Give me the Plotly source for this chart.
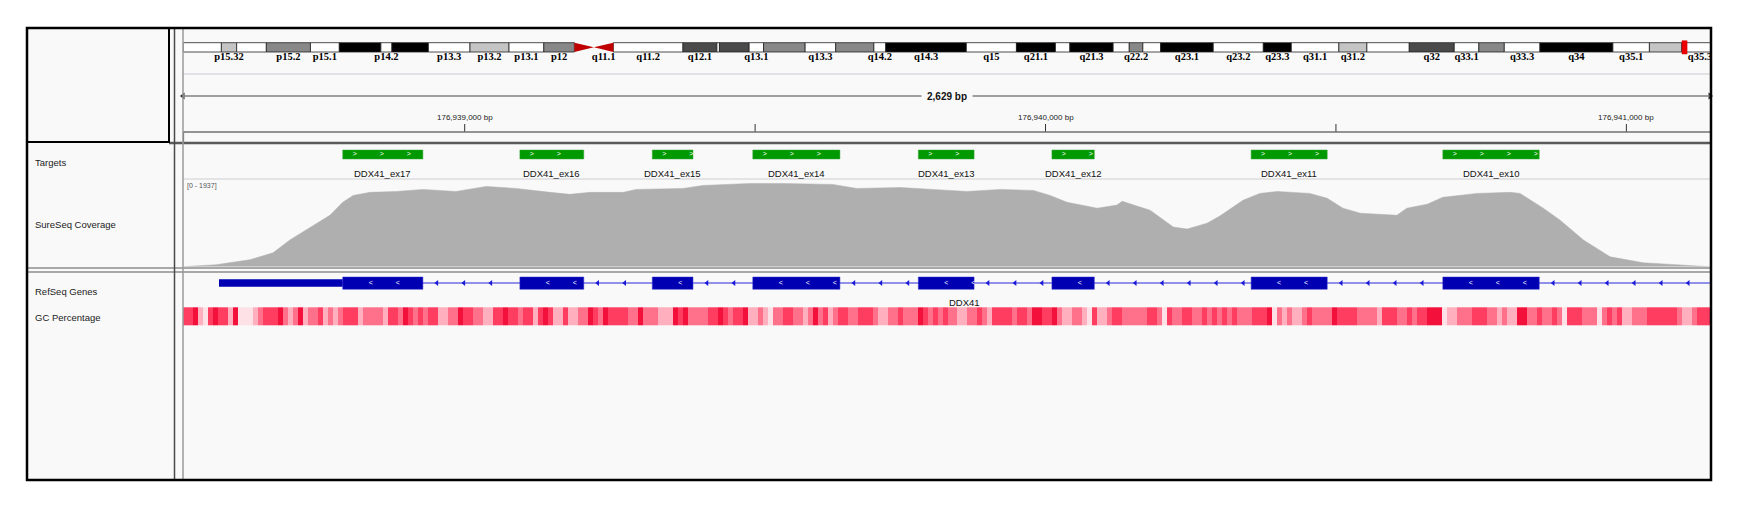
import plotly.graph_objects as go

W, H = 1741, 514

# locus shown (chr5, hg19)
view_start = 176938515
view_end = 176941144
ruler_major = [176939000, 176940000, 176941000]
ruler_minor = [176939500, 176940500]

# chr5 cytobands (Mb)
band_name = ["p15.33", "p15.32", "p15.31", "p15.2", "p15.1", "p14.3", "p14.2", "p14.1", "p13.3", "p13.2",
             "p13.1", "p12", "p11", "q11.1", "q11.2", "q12.1", "q12.2", "q12.3", "q13.1", "q13.2",
             "q13.3", "q14.1", "q14.2", "q14.3", "q15", "q21.1", "q21.2", "q21.3", "q22.1", "q22.2",
             "q22.3", "q23.1", "q23.2", "q23.3", "q31.1", "q31.2", "q31.3", "q32", "q33.1", "q33.2",
             "q33.3", "q34", "q35.1", "q35.2", "q35.3"]
band_start = [0.0, 4.5, 6.3, 9.8, 15.0, 18.4, 23.3, 24.6, 28.9, 33.8,
              38.4, 42.5, 46.1, 48.4, 50.7, 58.9, 62.9, 63.2, 66.7, 68.4,
              73.3, 76.9, 81.4, 82.8, 92.3, 98.2, 102.8, 104.5, 109.6, 111.5,
              113.1, 115.2, 121.4, 127.3, 130.6, 136.2, 139.5, 144.5, 149.8, 152.7,
              155.7, 159.9, 168.5, 172.8, 176.6]
band_end = band_start[1:] + [180.915]
band_stain = ["gneg", "gpos25", "gneg", "gpos50", "gneg", "gpos100", "gneg", "gpos100", "gneg", "gpos25",
              "gneg", "gpos50", "acen", "acen", "gneg", "gpos75", "gneg", "gpos75", "gneg", "gpos50",
              "gneg", "gpos50", "gneg", "gpos100", "gneg", "gpos100", "gneg", "gpos100", "gneg", "gpos50",
              "gneg", "gpos100", "gneg", "gpos100", "gneg", "gpos25", "gneg", "gpos75", "gneg", "gpos50",
              "gneg", "gpos100", "gneg", "gpos25", "gneg"]
band_labels_shown = ["p15.32", "p15.2", "p15.1", "p14.2", "p13.3", "p13.2", "p13.1", "p12", "q11.1", "q11.2",
                     "q12.1", "q13.1", "q13.3", "q14.2", "q14.3", "q15", "q21.1", "q21.3", "q22.2", "q23.1",
                     "q23.2", "q23.3", "q31.1", "q31.2", "q32", "q33.1", "q33.3", "q34", "q35.1", "q35.3"]

# Targets track
target_name = ["DDX41_ex17", "DDX41_ex16", "DDX41_ex15", "DDX41_ex14",
               "DDX41_ex13", "DDX41_ex12", "DDX41_ex11", "DDX41_ex10"]
target_start = [176938790, 176939095, 176939323, 176939496, 176939781, 176940011, 176940354, 176940684]
target_end = [176938928, 176939205, 176939393, 176939646, 176939877, 176940084, 176940485, 176940850]

# RefSeq gene (minus strand)
gene_name = "DDX41"
gene_start = 176938577
gene_end = 176944470
utr_end = 176938790
exon_start = [176938790, 176939095, 176939323, 176939496, 176939781, 176940011, 176940354, 176940684]
exon_end = [176938928, 176939205, 176939393, 176939646, 176939877, 176940084, 176940485, 176940850]

# SureSeq coverage
cov_max = 1937
cov_pos = [176938515, 176938532, 176938572, 176938630, 176938670, 176938699, 176938734, 176938768,
           176938790, 176938808, 176938837, 176938882, 176938928, 176938985, 176939037, 176939088,
           176939147, 176939181, 176939216, 176939273, 176939295, 176939376, 176939410, 176939491,
           176939548, 176939634, 176939675, 176939750, 176939806, 176939865, 176939922, 176939979,
           176940008, 176940037, 176940089, 176940123, 176940132, 176940180, 176940220, 176940244,
           176940278, 176940300, 176940340, 176940369, 176940399, 176940455, 176940485, 176940512,
           176940542, 176940605, 176940622, 176940657, 176940684, 176940743, 176940800, 176940817,
           176940857, 176940886, 176940926, 176940972, 176941029, 176941105, 176941144]
cov_val = [0, 10, 45, 158, 315, 608, 900, 1170,
           1464, 1620, 1690, 1710, 1757, 1710, 1825, 1780,
           1690, 1645, 1690, 1690, 1757, 1780, 1847, 1892,
           1892, 1870, 1780, 1800, 1757, 1710, 1757, 1735,
           1620, 1464, 1330, 1400, 1487, 1284, 900, 855,
           990, 1150, 1510, 1667, 1710, 1667, 1555, 1330,
           1216, 1170, 1330, 1420, 1577, 1667, 1690, 1667,
           1330, 1058, 608, 225, 90, 22, 0]

# GC percentage per window
gc_window = 8.6
gc_pct = [
    64, 64, 74, 44, 34, 64, 74, 64, 64, 44, 74, 34, 34, 34, 44, 54, 64, 64, 64, 74,
    54, 44, 54, 74, 44, 54, 54, 64, 44, 54, 44, 54, 64, 64, 64, 44, 54, 54, 54, 54,
    44, 64, 64, 54, 74, 64, 54, 64, 54, 64, 64, 44, 44, 54, 54, 74, 64, 64, 54, 54,
    44, 44, 64, 64, 74, 64, 64, 54, 64, 64, 44, 64, 74, 64, 44, 44, 64, 44, 44, 54,
    54, 74, 64, 54, 74, 64, 64, 64, 64, 54, 54, 74, 54, 54, 54, 44, 44, 44, 74, 64,
    74, 54,
    54, 54, 54, 64, 64, 74, 64, 54, 64, 64, 74, 44, 44, 54, 44, 34, 54, 54, 64, 64,
    54, 54, 44, 54, 74, 54, 64, 44, 54, 64, 64, 54, 54, 64, 64, 64, 54, 44, 44, 54,
    54, 64, 54, 54, 54, 74, 64, 54, 64, 54, 64, 54, 54, 44, 44, 54, 54, 64, 54, 44,
    64, 64, 64, 64, 54, 64, 64, 54, 74, 74, 64, 64, 74, 54, 44, 44, 54, 54, 44, 34,
    64, 44, 44, 54, 64, 64, 54, 54, 54, 54, 54, 64, 64, 54, 34, 64, 54, 54, 64, 64,
    54, 54,
    64, 54, 64, 54, 64, 54, 64, 54, 54, 54, 64, 64, 64, 74, 34, 54, 44, 54, 44, 44,
    54, 64, 54, 54, 54, 54, 74, 64, 64, 64, 64, 54, 54, 54, 54, 44, 64, 64, 64, 54,
    54, 64, 54, 64, 64, 74, 74, 74, 34, 44, 44, 54, 54, 54, 64, 64, 64, 54, 54, 44,
    54, 44, 44, 74, 74, 54, 54, 64, 54, 54, 64, 54, 34, 64, 64, 64, 54, 54, 54, 34,
    54, 64, 54, 64, 44, 44, 54, 54, 54, 64, 64, 64, 64, 64, 64, 54, 44, 44, 54, 64,
    64, 64]

# ---------------------------------------------------------------
DATA_X0, DATA_X1 = 183, 1710
bp_px = (view_end - view_start) / (DATA_X1 - DATA_X0)
stain_color = {"gneg": "#ffffff", "gpos25": "#c4c4c4", "gpos50": "#888888",
               "gpos75": "#4a4a4a", "gpos100": "#000000"}
PANEL_BG = "#f9f9f9"
EXON_BLUE = "#0000b2"
SANS = "Liberation Sans"


def fx(x):
    return x / W


def fy(y):
    return 1 - y / H


shapes = []
annotations = []


def pline(x0, y0, x1, y1, color, width, layer="above"):
    shapes.append(dict(type="line", xref="paper", yref="paper", x0=fx(x0), y0=fy(y0), x1=fx(x1), y1=fy(y1),
                       line=dict(color=color, width=width), layer=layer))


# panel background
shapes.append(dict(type="rect", xref="paper", yref="paper", x0=fx(27), x1=fx(1711), y0=fy(480), y1=fy(28),
                   fillcolor=PANEL_BG, line=dict(width=0), layer="below"))

# ---- ideogram ----
for name, s, e, st in zip(band_name, band_start, band_end, band_stain):
    if st == "acen":
        continue
    shapes.append(dict(type="rect", xref="x2", yref="y3", x0=s, x1=e, y0=42.7, y1=52,
                       fillcolor=stain_color[st], line=dict(color="#222222", width=0.8), layer="below"))
for name, s, e, st in zip(band_name, band_start, band_end, band_stain):
    if st != "acen":
        continue
    if name.startswith("p"):
        path = f"M {s},42.7 L {e},47.35 L {s},52 Z"
    else:
        path = f"M {e},42.7 L {s},47.35 L {e},52 Z"
    shapes.append(dict(type="path", xref="x2", yref="y3", path=path, fillcolor="#c00000",
                       line=dict(width=0), layer="below"))
locus_mb = (view_start + view_end) / 2 / 1e6
shapes.append(dict(type="rect", xref="x2", yref="y3", x0=locus_mb - 0.3, x1=locus_mb + 0.3, y0=40.7, y1=54,
                   fillcolor="#ee0000", line=dict(color="#cc0000", width=0.5), layer="below"))

lab_x = [(s + e) / 2 for n, s, e in zip(band_name, band_start, band_end) if n in band_labels_shown]
lab_t = [n for n in band_name if n in band_labels_shown]

# ---- ruler ----
pline(183, 74, 1710, 74, "#e2e2e6", 2)
shapes.append(dict(type="line", xref="x", yref="y2", x0=view_start, x1=view_end, y0=96, y1=96,
                   line=dict(color="#808080", width=1.5)))
for t in ruler_major + ruler_minor:
    shapes.append(dict(type="line", xref="x", yref="y2", x0=t, x1=t, y0=124, y1=132,
                       line=dict(color="#333333", width=1)))
shapes.append(dict(type="line", xref="x", yref="y2", x0=view_start, x1=view_end, y0=132, y1=132,
                   line=dict(color="#707070", width=1.5)))
pline(183.5, 132, 183.5, 142, "#555555", 1.2)
for t in ruler_major:
    annotations.append(dict(x=t, y=117, xref="x", yref="y2", text=f"{t:,} bp", showarrow=False,
                            yanchor="middle", font=dict(family=SANS, size=8, color="#222222")))
annotations.append(dict(x=(view_start + view_end) / 2, y=96, xref="x", yref="y2",
                        text=f"<b>{view_end - view_start:,} bp</b>", showarrow=False, bgcolor=PANEL_BG,
                        borderpad=5, yanchor="middle", font=dict(family=SANS, size=10, color="#111111")))

# ---- targets ----
tgt_chev_x = []
for s, e, n in zip(target_start, target_end, target_name):
    shapes.append(dict(type="rect", xref="x", yref="y2", x0=s, x1=e, y0=150, y1=159,
                       fillcolor="#009900", line=dict(color="#3aa83a", width=0.5), layer="below"))
    annotations.append(dict(x=(s + e) / 2, y=173, xref="x", yref="y2", text=n, showarrow=False,
                            yanchor="middle", font=dict(family=SANS, size=9.5, color="#111111")))
    p = s + 12 * bp_px
    while p < e - bp_px:
        tgt_chev_x.append(p)
        p += 27 * bp_px
pline(183, 179, 1710, 179, "#dcdce0", 1.5)

# ---- gene ----
shapes.append(dict(type="line", xref="x", yref="y2", x0=gene_start, x1=min(gene_end, view_end), y0=283, y1=283,
                   line=dict(color="#2b2bdc", width=1.2), layer="below"))
shapes.append(dict(type="rect", xref="x", yref="y2", x0=gene_start, x1=utr_end, y0=279.3, y1=286.7,
                   fillcolor=EXON_BLUE, line=dict(width=0), layer="below"))
exon_chev_x = []
for s, e in zip(exon_start, exon_end):
    shapes.append(dict(type="rect", xref="x", yref="y2", x0=s, x1=e, y0=277, y1=289.3,
                       fillcolor=EXON_BLUE, line=dict(color="#3030d0", width=0.5), layer="below"))
    p = s + 28 * bp_px
    while p <= e:
        exon_chev_x.append(p)
        p += 27 * bp_px
intron_arrow_x = []
seg_a = exon_end
seg_b = exon_start[1:] + [gene_end]
for a, b in zip(seg_a, seg_b):
    p = a + 14 * bp_px
    while p < b - 2 * bp_px and p <= view_end:
        intron_arrow_x.append(p)
        p += 27 * bp_px
annotations.append(dict(x=(max(gene_start, view_start) + min(gene_end, view_end)) / 2, y=302, xref="x", yref="y2",
                        text=gene_name, showarrow=False, yanchor="middle",
                        font=dict(family=SANS, size=9.5, color="#111111")))

# ---- frame / dividers ----
pline(27, 268, 1711, 268, "#8c8c8c", 1.5)
pline(27, 272, 1711, 272, "#8c8c8c", 1.5)
pline(169, 143, 1711, 143, "#5a5a5a", 2.5)
pline(174.5, 28, 174.5, 480, "#4a4a4a", 1.5)
pline(183, 28, 183, 480, "#9a9a9a", 1.5)
shapes.append(dict(type="rect", xref="paper", yref="paper", x0=fx(27), x1=fx(169), y0=fy(142), y1=fy(28),
                   line=dict(color="#000000", width=2)))
shapes.append(dict(type="rect", xref="paper", yref="paper", x0=fx(27), x1=fx(1711), y0=fy(480), y1=fy(28),
                   line=dict(color="#000000", width=2.5)))

# track names
for txt, yy in [("Targets", 162), ("SureSeq Coverage", 224), ("RefSeq Genes", 291), ("GC Percentage", 317)]:
    annotations.append(dict(x=fx(33), y=fy(yy), xref="paper", yref="paper", text=txt, showarrow=False,
                            xanchor="left", yanchor="middle", font=dict(family=SANS, size=9.5, color="#222222")))
annotations.append(dict(x=fx(185), y=fy(186), xref="paper", yref="paper", text=f"[0 - {cov_max}]",
                        showarrow=False, xanchor="left", yanchor="middle",
                        font=dict(family=SANS, size=7, color="#555555")))

# ---------------------------------------------------------------
fig = go.Figure()

fig.add_trace(go.Scatter(x=cov_pos, y=cov_val, mode="lines", fill="tozeroy", fillcolor="#afafaf",
                         line=dict(color="#afafaf", width=0.5), xaxis="x", yaxis="y", hoverinfo="skip"))

gc_edges = [view_start + i * gc_window for i in range(len(gc_pct) + 1)]
fig.add_trace(go.Heatmap(x=gc_edges, y=[307.3, 325.7], z=[gc_pct], xaxis="x", yaxis="y2", zmin=30, zmax=78,
                         showscale=False, hoverinfo="skip",
                         colorscale=[[0.0, "rgb(253,240,242)"], [0.2, "rgb(255,205,215)"],
                                     [0.4, "rgb(255,140,160)"], [0.6, "rgb(255,85,115)"],
                                     [0.8, "rgb(255,40,80)"], [1.0, "rgb(235,0,45)"]]))

fig.add_trace(go.Scatter(x=tgt_chev_x, y=[154.5] * len(tgt_chev_x), mode="text", text=[">"] * len(tgt_chev_x),
                         textfont=dict(family=SANS, size=7, color="white"), xaxis="x", yaxis="y2", hoverinfo="skip"))
fig.add_trace(go.Scatter(x=exon_chev_x, y=[283] * len(exon_chev_x), mode="text", text=["<"] * len(exon_chev_x),
                         textfont=dict(family=SANS, size=7, color="white"), xaxis="x", yaxis="y2", hoverinfo="skip"))
fig.add_trace(go.Scatter(x=intron_arrow_x, y=[283] * len(intron_arrow_x), mode="markers",
                         marker=dict(symbol="triangle-left", size=5, color="#1a1ad8"),
                         xaxis="x", yaxis="y2", hoverinfo="skip"))
fig.add_trace(go.Scatter(x=[view_start, view_end], y=[96, 96], mode="markers", cliponaxis=False,
                         marker=dict(symbol=["triangle-left", "triangle-right"], size=6, color="#222222"),
                         xaxis="x", yaxis="y2", hoverinfo="skip"))
fig.add_trace(go.Scatter(x=lab_x, y=[57] * len(lab_x), mode="text", text=lab_t, cliponaxis=True,
                         textfont=dict(family="Liberation Serif", size=10.5, color="#000000", weight="bold"),
                         xaxis="x2", yaxis="y3", hoverinfo="skip"))

fig.update_layout(
    width=W, height=H, autosize=False,
    margin=dict(l=0, r=0, t=0, b=0),
    paper_bgcolor="white", plot_bgcolor="rgba(0,0,0,0)",
    showlegend=False,
    xaxis=dict(domain=[fx(DATA_X0), fx(DATA_X1)], range=[view_start, view_end], visible=False,
               anchor="y", fixedrange=True),
    yaxis=dict(domain=[fy(266.7), fy(181.5)], range=[0, cov_max], visible=False, anchor="x", fixedrange=True),
    yaxis2=dict(domain=[fy(480), fy(64)], range=[480, 64], visible=False, anchor="x", fixedrange=True),
    xaxis2=dict(domain=[fx(183.2), fx(DATA_X1)], range=[0, (DATA_X1 - 183.2) / 8.485], visible=False,
                anchor="y3", fixedrange=True),
    yaxis3=dict(domain=[fy(64), fy(36)], range=[64, 36], visible=False, anchor="x2", fixedrange=True),
    shapes=shapes,
    annotations=annotations,
)

fig.write_html("out.html", config={"displayModeBar": False},
               post_script="document.body.style.margin='0';document.body.style.overflow='hidden';")
